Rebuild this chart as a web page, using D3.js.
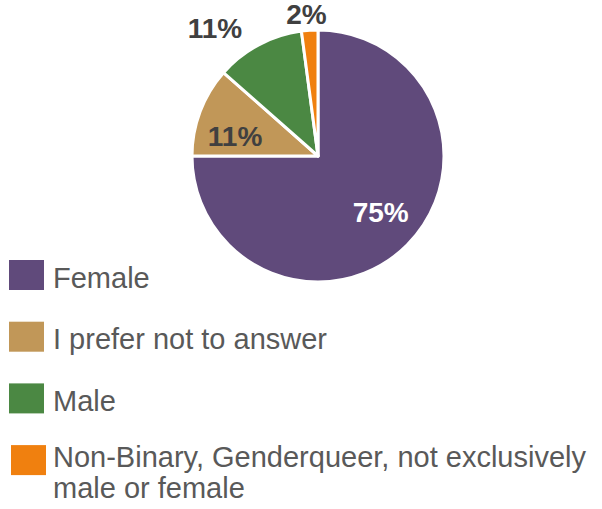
<!DOCTYPE html>
<html>
<head>
<meta charset="utf-8">
<script src="https://cdn.jsdelivr.net/npm/d3@7"></script>
<style>
  body { margin: 0; background: #fff; }
  svg { font-family: "Liberation Sans", Arial, sans-serif; }
</style>
</head>
<body>
<div id="chart"></div>
<script>
const categories = ['Female', 'I prefer not to answer', 'Male', 'Non-Binary, Genderqueer, not exclusively male or female'];
const legendLines = [['Female'], ['I prefer not to answer'], ['Male'], ['Non-Binary, Genderqueer, not exclusively', 'male or female']];
const values = [75, 11.5, 11.4, 2.1];
const valueLabels = ['75%', '11%', '11%', '2%'];
const colors = ['#604a7b', '#c19758', '#4b8843', '#f0800f'];

const width = 602;
const height = 509;
const cx = 318, cy = 156, radius = 126;

const svg = d3.select('#chart')
  .append('svg')
  .attr('width', width)
  .attr('height', height);

const pie = d3.pie().sort(null).value(d => d);
const arcs = pie(values);

const arc = d3.arc().innerRadius(0).outerRadius(radius);

const g = svg.append('g').attr('transform', `translate(${cx},${cy})`);

g.selectAll('path')
  .data(arcs)
  .enter()
  .append('path')
  .attr('d', arc)
  .attr('fill', (d, i) => colors[i])
  .attr('stroke', '#fff')
  .attr('stroke-width', 3)
  .attr('stroke-linejoin', 'round');

// label radius (fraction of radius) and small nudges, excel-ish placement
const labelRadius = [0.67, 0.67, 1.3, 1.14];
const labelNudge = [[3, -4], [-4, 10], [-26, 16], [-2, 1]];
g.selectAll('text.lbl')
  .data(arcs)
  .enter()
  .append('text')
  .attr('class', 'lbl')
  .attr('transform', (d, i) => {
    const c = d3.arc().innerRadius(0).outerRadius(radius * labelRadius[i] * 2).centroid(d);
    return `translate(${c[0] + labelNudge[i][0]},${c[1] + labelNudge[i][1]})`;
  })
  .attr('text-anchor', 'middle')
  .attr('dy', '0.36em')
  .attr('font-size', 28)
  .attr('font-weight', 'bold')
  .attr('fill', (d, i) => i === 0 ? '#fff' : '#404040')
  .text((d, i) => valueLabels[i]);

// legend
const legend = svg.append('g').attr('transform', 'translate(9,260)');
const rowH = 61.7;
const items = legend.selectAll('g')
  .data(categories)
  .enter()
  .append('g')
  .attr('transform', (d, i) => `translate(${i === 3 ? 2 : 0},${i * rowH})`);

items.append('rect')
  .attr('width', 35)
  .attr('height', 30)
  .attr('fill', (d, i) => colors[i]);

items.append('text')
  .attr('y', (d, i) => legendLines[i].length > 1 ? 22 : 27.5)
  .attr('font-size', 29)
  .attr('fill', '#595959')
  .each(function(d, i) {
    const t = d3.select(this);
    legendLines[i].forEach((l, k) => {
      t.append('tspan').attr('x', i === 3 ? 42 : 44).attr('dy', k === 0 ? 0 : 31).text(l);
    });
  });
</script>
</body>
</html>
